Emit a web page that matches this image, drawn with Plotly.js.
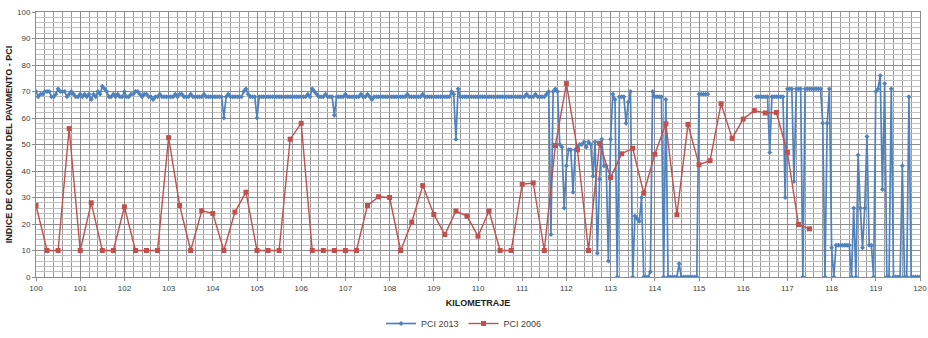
<!DOCTYPE html>
<html>
<head>
<meta charset="utf-8">
<script src="https://cdn.plot.ly/plotly-3.0.1.min.js"></script>
<style>html,body{margin:0;padding:0;background:#fff;}#chart{width:928px;height:338px;}</style>
</head>
<body>
<div id="chart"></div>
<script>
// PCI 2006: one reading every 0.25 km
const km2006 = [100,100.25,100.5,100.75,101,101.25,101.5,101.75,102,102.25,102.5,102.75,103,103.25,103.5,103.75,104,104.25,104.5,104.75,105,105.25,105.5,105.75,106,106.25,106.5,106.75,107,107.25,107.5,107.75,108,108.25,108.5,108.75,109,109.25,109.5,109.75,110,110.25,110.5,110.75,111,111.25,111.5,111.75,112,112.25,112.5,112.75,113,113.25,113.5,113.75,114,114.25,114.5,114.75,115,115.25,115.5,115.75,116,116.25,116.5,116.75,117,117.25,117.5];
const pci2006 = [27,10,10,56,10,28,10,10,26.5,10,10,10,52.6,27,10,25,24,10,24.5,32,10,10,10,52,58,10,10,10,10,10,27,30.3,30,10,20.7,34.5,23.6,16,24.9,23,15.4,24.9,10,10,35,35.5,10,49.6,73,48,10,50.5,37.5,46.5,48.6,31.6,46.3,57.8,23.5,57.6,42.4,43.9,65.4,52.3,59.6,62.8,61.9,62.1,47,19.8,18.2];

// PCI 2013: one reading every 0.05 km from km 100.00 (null = no reading)
const kmStart2013 = 100;
const kmStep2013 = 0.05;
const pci2013 = [
  // 100.00 - 100.95
  70,68,69,69,70,70,70,68,68,69, 71,70,70,70,68,69,70,69,68,68,
  // 101.00 - 101.95
  69,68,69,68,69,67,69,68,70,69, 72,71,70,68,68,69,68,69,68,68,
  // 102.00 - 102.95
  70,68,68,69,69,70,70,69,68,69, 69,68,68,67,68,68,69,68,68,68,
  // 103.00 - 103.95
  68,68,68,69,68,69,69,68,68,68, 69,68,68,68,68,68,69,68,68,68,
  // 104.00 - 104.95
  68,68,68,68,68,60,68,69,68,68, 68,68,68,68,70,71,69,68,68,68,
  // 105.00 - 105.95
  60,68,68,68,68,68,68,68,68,68, 68,68,68,68,68,68,68,68,68,68,
  // 106.00 - 106.95
  68,68,68,69,68,71,70,69,68,68, 68,69,68,68,68,61,68,68,68,68,
  // 107.00 - 107.95
  69,68,68,68,68,68,68,69,68,68, 69,68,67,68,68,68,68,68,68,68,
  // 108.00 - 108.95
  68,68,68,68,68,68,68,68,69,68, 68,68,68,68,68,69,68,68,68,68,
  // 109.00 - 109.95
  68,68,68,68,68,68,68,68,70,69, 52,71,68,68,68,68,68,68,68,68,
  // 110.00 - 110.95
  68,68,68,68,68,68,68,68,68,68, 68,68,68,68,68,68,68,68,68,68,
  // 111.00 - 111.95
  68,68,69,68,68,68,69,68,68,68, 68,69,70,16,70,71,70,50,49,26,
  // 112.00 - 112.95
  42,48,48,32,48,49,50,50,51,49, 51,50,38,51,9,37,52,42,42,6,
  // 113.00 - 113.95
  52,69,67,0,68,68,68,58,66,70, 0,23,22,21,30,0,0,0,2,70,
  // 114.00 - 114.95
  68,68,68,68,0,67,0,0,0,0, 0,5,0,0,0,0,0,0,0,0,
  // 115.00 - 115.95
  69,69,69,69,69,null,null,null,null,null, null,null,null,null,null,null,null,null,null,null,
  // 116.00 - 116.95
  null,null,null,null,null,null,68,68,68,68, 68,68,47,68,68,68,68,68,68,30,
  // 117.00 - 117.95
  71,71,71,36,71,71,71,0,71,71, 71,71,71,71,71,71,58,0,58,71,
  // 118.00 - 118.95
  11,0,12,12,12,12,12,12,12,0, 26,0,46,26,11,26,53,12,12,0,
  // 119.00 - 119.95
  70,71,76,33,73,0,0,71,0,0, 0,0,42,0,0,68,0,0,0,0,
  // 120.00
  0
];
const km2013 = pci2013.map((_, i) => +(kmStart2013 + i * kmStep2013).toFixed(2));

const seriesNames = ['PCI 2013', 'PCI 2006'];
const xTitle = 'KILOMETRAJE';
const yTitle = 'INDICE DE CONDICION DEL PAVIMENTO - PCI';

const blue = '#4F81BD';
const red = '#C0504D';

const traces = [
  {
    x: km2013, y: pci2013, name: seriesNames[0], type: 'scatter', mode: 'lines+markers',
    line: {color: blue, width: 1.7}, marker: {color: blue, symbol: 'diamond', size: 3.8},
    connectgaps: false
  },
  {
    x: km2006, y: pci2006, name: seriesNames[1], type: 'scatter', mode: 'lines+markers',
    line: {color: red, width: 1.4}, marker: {color: red, symbol: 'square', size: 5}
  }
];

const font = 'Liberation Sans, Arial, sans-serif';
const layout = {
  width: 928, height: 338,
  margin: {l: 36, r: 8, t: 12, b: 61, autoexpand: false},
  paper_bgcolor: '#fff', plot_bgcolor: '#fff',
  font: {family: font, size: 8, color: '#404040'},
  showlegend: true,
  legend: {orientation: 'h', x: 0.5, xanchor: 'center', xref: 'container',
           y: 0, yanchor: 'bottom', yref: 'container',
           font: {family: font, size: 9, color: '#404040'}, itemwidth: 30, tracegroupgap: 0},
  xaxis: {
    range: [100, 120], dtick: 1, tick0: 100, automargin: false,
    showgrid: true, gridcolor: '#8c8c8c', gridwidth: 1,
    minor: {dtick: 0.2, showgrid: true, gridcolor: '#9a9a9a', gridwidth: 1},
    showline: true, linecolor: '#8c8c8c', mirror: true,
    ticks: 'outside', ticklen: 3, tickcolor: '#8c8c8c',
    zeroline: false,
    tickfont: {family: font, size: 8, color: '#404040'},
    title: {text: '<b>' + xTitle + '</b>', font: {family: font, size: 9, color: '#222'}, standoff: 8}
  },
  yaxis: {
    range: [0, 100], dtick: 10, tick0: 0, automargin: false,
    showgrid: true, gridcolor: '#8c8c8c', gridwidth: 1,
    minor: {dtick: 2, showgrid: true, gridcolor: '#c0c0c0', gridwidth: 1},
    showline: true, linecolor: '#8c8c8c', mirror: true,
    ticks: 'outside', ticklen: 3, tickcolor: '#8c8c8c',
    zeroline: false,
    tickfont: {family: font, size: 8, color: '#404040'},
    title: {text: '<b>' + yTitle + '</b>', font: {family: font, size: 9, color: '#222'}, standoff: 2}
  }
};

Plotly.newPlot('chart', traces, layout, {staticPlot: true, displayModeBar: false});
</script>
</body>
</html>
